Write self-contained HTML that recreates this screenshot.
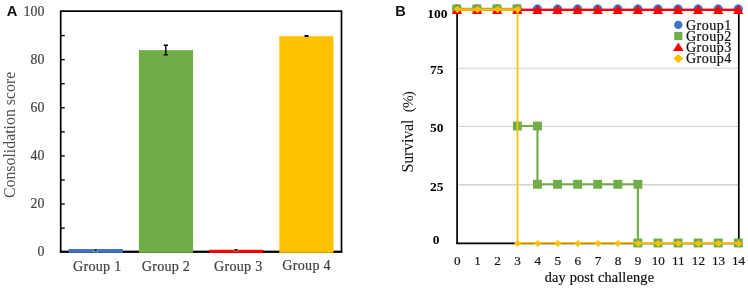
<!DOCTYPE html>
<html lang="en"><head><meta charset="utf-8"><title>Figure</title>
<style>html,body{margin:0;padding:0;background:#fff;overflow:hidden}svg{display:block}text{font-family:"Liberation Serif",serif}.g{fill:#404040;stroke:#404040;stroke-width:.2}.k{fill:#111;stroke:#111;stroke-width:.2}.b{font-weight:bold;fill:#000}.t{fill:#111}.u{fill:#505050}.p{font-family:"Liberation Sans",sans-serif;font-weight:bold;fill:#111}</style></head><body>
<svg width="748" height="289" viewBox="0 0 748 289">
<rect width="748" height="289" fill="#fff"/>
<rect x="60.7" y="11.15" width="280.80" height="240.55" fill="none" stroke="#000" stroke-width="1.7"/>
<line x1="59.85" x2="342.35" y1="251.75" y2="251.75" stroke="#000" stroke-width="2.1"/>
<rect x="68.70" y="249.00" width="54.2" height="3.80" fill="#4472C4"/>
<rect x="138.90" y="50.13" width="54.2" height="202.67" fill="#70AD47"/>
<rect x="209.10" y="249.79" width="54.2" height="3.01" fill="#FF0000"/>
<rect x="279.30" y="36.17" width="54.2" height="216.63" fill="#FFC000"/>
<line x1="60.7" x2="64.8" y1="228.13" y2="228.13" stroke="#000" stroke-width="1.35"/>
<line x1="60.7" x2="64.8" y1="204.06" y2="204.06" stroke="#000" stroke-width="1.35"/>
<line x1="60.7" x2="64.8" y1="179.99" y2="179.99" stroke="#000" stroke-width="1.35"/>
<line x1="60.7" x2="64.8" y1="155.92" y2="155.92" stroke="#000" stroke-width="1.35"/>
<line x1="60.7" x2="64.8" y1="131.85" y2="131.85" stroke="#000" stroke-width="1.35"/>
<line x1="60.7" x2="64.8" y1="107.78" y2="107.78" stroke="#000" stroke-width="1.35"/>
<line x1="60.7" x2="64.8" y1="83.71" y2="83.71" stroke="#000" stroke-width="1.35"/>
<line x1="60.7" x2="64.8" y1="59.64" y2="59.64" stroke="#000" stroke-width="1.35"/>
<line x1="60.7" x2="64.8" y1="35.57" y2="35.57" stroke="#000" stroke-width="1.35"/>
<path d="M165.80 45.30V54.90M163.65 45.30H167.95M163.65 54.90H167.95" stroke="#000" stroke-width="1.4" fill="none"/>
<rect x="304.4" y="34.9" width="4.3" height="2.2" rx="0.8" fill="#000"/>
<rect x="93.20" y="249.05" width="4.6" height="2.4" fill="#fff" opacity=".75"/>
<rect x="93.70" y="249.35" width="3.6" height="1.5" fill="#000"/>
<rect x="233.70" y="248.90" width="4.6" height="2.4" fill="#fff" opacity=".75"/>
<rect x="234.20" y="249.20" width="3.6" height="1.5" fill="#000"/>
<text class="g" x="44.3" y="256.30" font-size="13.8" text-anchor="end">0</text>
<text class="g" x="44.3" y="208.16" font-size="13.8" text-anchor="end">20</text>
<text class="g" x="44.3" y="160.02" font-size="13.8" text-anchor="end">40</text>
<text class="g" x="44.3" y="111.88" font-size="13.8" text-anchor="end">60</text>
<text class="g" x="44.3" y="63.74" font-size="13.8" text-anchor="end">80</text>
<text class="g" x="44.3" y="15.60" font-size="13.8" text-anchor="end">100</text>
<text class="g" x="73.1" y="270.7" font-size="14.1" textLength="48.1" lengthAdjust="spacing">Group 1</text>
<text class="g" x="141.8" y="270.7" font-size="14.1" textLength="48.0" lengthAdjust="spacing">Group 2</text>
<text class="g" x="214.0" y="270.7" font-size="14.1" textLength="48.2" lengthAdjust="spacing">Group 3</text>
<text class="g" x="282.2" y="269.5" font-size="14.1" textLength="48.4" lengthAdjust="spacing">Group 4</text>
<text class="u" transform="translate(15.0 198.0) rotate(-90)" font-size="15.8" textLength="126.2" lengthAdjust="spacing">Consolidation score</text>
<text class="p" x="6.7" y="15.6" font-size="14.7">A</text>
<line x1="458.6" x2="738.3" y1="184.80" y2="184.80" stroke="#D2D2D2" stroke-width="1.4"/>
<line x1="458.6" x2="738.3" y1="126.50" y2="126.50" stroke="#D2D2D2" stroke-width="1.1"/>
<line x1="458.6" x2="738.3" y1="68.20" y2="68.20" stroke="#D2D2D2" stroke-width="1.1"/>
<path d="M457.1 9.8V244.0M738.8 244.0V9.8" fill="none" stroke="#000" stroke-width="1.7"/>
<path d="M456.25 243.3H739.65" fill="none" stroke="#000" stroke-width="1.8"/>
<path d="M457.10 9.80L477.19 9.80L497.27 9.80L517.36 9.80L537.44 9.80L557.53 9.80L577.61 9.80L597.70 9.80L617.79 9.80L637.87 9.80L657.96 9.80L678.04 9.80L698.13 9.80L718.21 9.80L738.30 9.80" stroke="#4472C4" stroke-width="2" fill="none"/>
<circle cx="457.10" cy="9.00" r="4.3" fill="#4472C4" stroke="#2E75B6" stroke-width="0.7"/>
<circle cx="477.19" cy="9.00" r="4.3" fill="#4472C4" stroke="#2E75B6" stroke-width="0.7"/>
<circle cx="497.27" cy="9.00" r="4.3" fill="#4472C4" stroke="#2E75B6" stroke-width="0.7"/>
<circle cx="517.36" cy="9.00" r="4.3" fill="#4472C4" stroke="#2E75B6" stroke-width="0.7"/>
<circle cx="537.44" cy="9.00" r="4.3" fill="#4472C4" stroke="#2E75B6" stroke-width="0.7"/>
<circle cx="557.53" cy="9.00" r="4.3" fill="#4472C4" stroke="#2E75B6" stroke-width="0.7"/>
<circle cx="577.61" cy="9.00" r="4.3" fill="#4472C4" stroke="#2E75B6" stroke-width="0.7"/>
<circle cx="597.70" cy="9.00" r="4.3" fill="#4472C4" stroke="#2E75B6" stroke-width="0.7"/>
<circle cx="617.79" cy="9.00" r="4.3" fill="#4472C4" stroke="#2E75B6" stroke-width="0.7"/>
<circle cx="637.87" cy="9.00" r="4.3" fill="#4472C4" stroke="#2E75B6" stroke-width="0.7"/>
<circle cx="657.96" cy="9.00" r="4.3" fill="#4472C4" stroke="#2E75B6" stroke-width="0.7"/>
<circle cx="678.04" cy="9.00" r="4.3" fill="#4472C4" stroke="#2E75B6" stroke-width="0.7"/>
<circle cx="698.13" cy="9.00" r="4.3" fill="#4472C4" stroke="#2E75B6" stroke-width="0.7"/>
<circle cx="718.21" cy="9.00" r="4.3" fill="#4472C4" stroke="#2E75B6" stroke-width="0.7"/>
<circle cx="738.30" cy="9.00" r="4.3" fill="#4472C4" stroke="#2E75B6" stroke-width="0.7"/>
<path d="M457.10 8.90L477.19 8.90L497.27 8.90L517.36 8.90M517.36 126.00L537.44 126.00L537.44 184.30L557.53 184.30L577.61 184.30L597.70 184.30L617.79 184.30L637.87 184.30L637.87 243.00L657.96 243.00L678.04 243.00L698.13 243.00L718.21 243.00L738.30 243.00" stroke="#70AD47" stroke-width="2.1" fill="none"/>
<rect x="452.25" y="4.45" width="8.9" height="8.9" fill="#70AD47"/>
<rect x="472.34" y="4.45" width="8.9" height="8.9" fill="#70AD47"/>
<rect x="492.42" y="4.45" width="8.9" height="8.9" fill="#70AD47"/>
<rect x="512.51" y="4.45" width="8.9" height="8.9" fill="#70AD47"/>
<rect x="512.91" y="121.55" width="8.9" height="8.9" fill="#70AD47"/>
<rect x="532.99" y="121.55" width="8.9" height="8.9" fill="#70AD47"/>
<rect x="532.99" y="179.85" width="8.9" height="8.9" fill="#70AD47"/>
<rect x="553.08" y="179.85" width="8.9" height="8.9" fill="#70AD47"/>
<rect x="573.16" y="179.85" width="8.9" height="8.9" fill="#70AD47"/>
<rect x="593.25" y="179.85" width="8.9" height="8.9" fill="#70AD47"/>
<rect x="613.34" y="179.85" width="8.9" height="8.9" fill="#70AD47"/>
<rect x="633.42" y="179.85" width="8.9" height="8.9" fill="#70AD47"/>
<rect x="633.42" y="238.55" width="8.9" height="8.9" fill="#70AD47"/>
<rect x="653.51" y="238.55" width="8.9" height="8.9" fill="#70AD47"/>
<rect x="673.59" y="238.55" width="8.9" height="8.9" fill="#70AD47"/>
<rect x="693.68" y="238.55" width="8.9" height="8.9" fill="#70AD47"/>
<rect x="713.76" y="238.55" width="8.9" height="8.9" fill="#70AD47"/>
<rect x="733.85" y="238.55" width="8.9" height="8.9" fill="#70AD47"/>
<path d="M457.10 9.80L477.19 9.80L497.27 9.80L517.36 9.80L537.44 9.80L557.53 9.80L577.61 9.80L597.70 9.80L617.79 9.80L637.87 9.80L657.96 9.80L678.04 9.80L698.13 9.80L718.21 9.80L738.30 9.80" stroke="#FF0000" stroke-width="2.2" fill="none"/>
<path d="M457.10 4.80L462.10 13.90H452.10Z" fill="#FF0000"/>
<path d="M477.19 4.80L482.19 13.90H472.19Z" fill="#FF0000"/>
<path d="M497.27 4.80L502.27 13.90H492.27Z" fill="#FF0000"/>
<path d="M517.36 4.80L522.36 13.90H512.36Z" fill="#FF0000"/>
<path d="M537.44 4.80L542.44 13.90H532.44Z" fill="#FF0000"/>
<path d="M557.53 4.80L562.53 13.90H552.53Z" fill="#FF0000"/>
<path d="M577.61 4.80L582.61 13.90H572.61Z" fill="#FF0000"/>
<path d="M597.70 4.80L602.70 13.90H592.70Z" fill="#FF0000"/>
<path d="M617.79 4.80L622.79 13.90H612.79Z" fill="#FF0000"/>
<path d="M637.87 4.80L642.87 13.90H632.87Z" fill="#FF0000"/>
<path d="M657.96 4.80L662.96 13.90H652.96Z" fill="#FF0000"/>
<path d="M678.04 4.80L683.04 13.90H673.04Z" fill="#FF0000"/>
<path d="M698.13 4.80L703.13 13.90H693.13Z" fill="#FF0000"/>
<path d="M718.21 4.80L723.21 13.90H713.21Z" fill="#FF0000"/>
<path d="M738.30 4.80L743.30 13.90H733.30Z" fill="#FF0000"/>
<path d="M457.10 9.7H517.66" stroke="#FFC000" stroke-width="2.3" fill="none"/>
<path d="M457.30 9.60L477.39 9.60L497.47 9.60L517.56 9.60L517.56 242.90L537.64 242.90L557.73 242.90L577.81 242.90L597.90 242.90L617.99 242.90L638.07 242.90L658.16 242.90L678.24 242.90L698.33 242.90L718.41 242.90L738.50 242.90" stroke="#FFC000" stroke-width="1.7" fill="none"/>
<path d="M457.40 5.45L461.25 9.30L457.40 13.15L453.55 9.30Z" fill="#FFC000"/>
<path d="M477.49 5.45L481.34 9.30L477.49 13.15L473.64 9.30Z" fill="#FFC000"/>
<path d="M497.57 5.45L501.42 9.30L497.57 13.15L493.72 9.30Z" fill="#FFC000"/>
<path d="M517.66 5.45L521.51 9.30L517.66 13.15L513.81 9.30Z" fill="#FFC000"/>
<path d="M517.66 239.90L521.16 243.40L517.66 246.90L514.16 243.40Z" fill="#FFC000"/>
<path d="M537.74 239.90L541.24 243.40L537.74 246.90L534.24 243.40Z" fill="#FFC000"/>
<path d="M557.83 239.90L561.33 243.40L557.83 246.90L554.33 243.40Z" fill="#FFC000"/>
<path d="M577.91 239.90L581.41 243.40L577.91 246.90L574.41 243.40Z" fill="#FFC000"/>
<path d="M598.00 239.90L601.50 243.40L598.00 246.90L594.50 243.40Z" fill="#FFC000"/>
<path d="M618.09 239.90L621.59 243.40L618.09 246.90L614.59 243.40Z" fill="#FFC000"/>
<path d="M638.17 239.90L641.67 243.40L638.17 246.90L634.67 243.40Z" fill="#FFC000"/>
<path d="M658.26 239.90L661.76 243.40L658.26 246.90L654.76 243.40Z" fill="#FFC000"/>
<path d="M678.34 239.90L681.84 243.40L678.34 246.90L674.84 243.40Z" fill="#FFC000"/>
<path d="M698.43 239.90L701.93 243.40L698.43 246.90L694.93 243.40Z" fill="#FFC000"/>
<path d="M718.51 239.90L722.01 243.40L718.51 246.90L715.01 243.40Z" fill="#FFC000"/>
<path d="M738.60 239.90L742.10 243.40L738.60 246.90L735.10 243.40Z" fill="#FFC000"/>
<text class="b" x="447.6" y="18.0" font-size="13.5" text-anchor="end">100</text>
<text class="b" x="443.4" y="74.1" font-size="13.5" text-anchor="end">75</text>
<text class="b" x="443.4" y="132.2" font-size="13.5" text-anchor="end">50</text>
<text class="b" x="443.4" y="191.4" font-size="13.5" text-anchor="end">25</text>
<text class="b" x="439.4" y="243.6" font-size="13.5" text-anchor="end">0</text>
<text class="k" x="457.40" y="264.5" font-size="13.2" text-anchor="middle">0</text>
<text class="k" x="477.49" y="264.5" font-size="13.2" text-anchor="middle">1</text>
<text class="k" x="497.57" y="264.5" font-size="13.2" text-anchor="middle">2</text>
<text class="k" x="517.66" y="264.5" font-size="13.2" text-anchor="middle">3</text>
<text class="k" x="537.74" y="264.5" font-size="13.2" text-anchor="middle">4</text>
<text class="k" x="557.83" y="264.5" font-size="13.2" text-anchor="middle">5</text>
<text class="k" x="577.91" y="264.5" font-size="13.2" text-anchor="middle">6</text>
<text class="k" x="598.00" y="264.5" font-size="13.2" text-anchor="middle">7</text>
<text class="k" x="618.09" y="264.5" font-size="13.2" text-anchor="middle">8</text>
<text class="k" x="638.17" y="264.5" font-size="13.2" text-anchor="middle">9</text>
<text class="k" x="658.26" y="264.5" font-size="13.2" text-anchor="middle">10</text>
<text class="k" x="678.34" y="264.5" font-size="13.2" text-anchor="middle">11</text>
<text class="k" x="698.43" y="264.5" font-size="13.2" text-anchor="middle">12</text>
<text class="k" x="718.51" y="264.5" font-size="13.2" text-anchor="middle">13</text>
<text class="k" x="738.60" y="264.5" font-size="13.2" text-anchor="middle">14</text>
<text class="k" x="544.8" y="281.6" font-size="14.3" textLength="109.2" lengthAdjust="spacing">day post challenge</text>
<text class="t" transform="translate(412.8 172.4) rotate(-90)" font-size="16" textLength="52.8" lengthAdjust="spacing">Survival</text>
<text class="t" transform="translate(412.8 112.3) rotate(-90)" font-size="15.2" textLength="21.2" lengthAdjust="spacing">(%)</text>
<text class="p" x="395.3" y="15.5" font-size="14.6">B</text>
<circle cx="678.3" cy="24.9" r="3.55" fill="#4A70C4" stroke="#2F7BD2" stroke-width="1.3"/>
<rect x="674.1999999999999" y="31.9" width="8.2" height="8.2" fill="#70AD47"/>
<path d="M678.3 42.4L683.5999999999999 51.0H673.0Z" fill="#FF0000"/>
<path d="M678.3 54.0L683.4 58.5L678.3 63.0L673.1999999999999 58.5Z" fill="#FFC000"/>
<text class="k" x="686" y="29.5" font-size="14.1" textLength="45.2" lengthAdjust="spacing">Group1</text>
<text class="k" x="686" y="40.7" font-size="14.1" textLength="45.2" lengthAdjust="spacing">Group2</text>
<text class="k" x="686" y="51.7" font-size="14.1" textLength="45.2" lengthAdjust="spacing">Group3</text>
<text class="k" x="686" y="63.2" font-size="14.1" textLength="45.2" lengthAdjust="spacing">Group4</text>
</svg></body></html>
